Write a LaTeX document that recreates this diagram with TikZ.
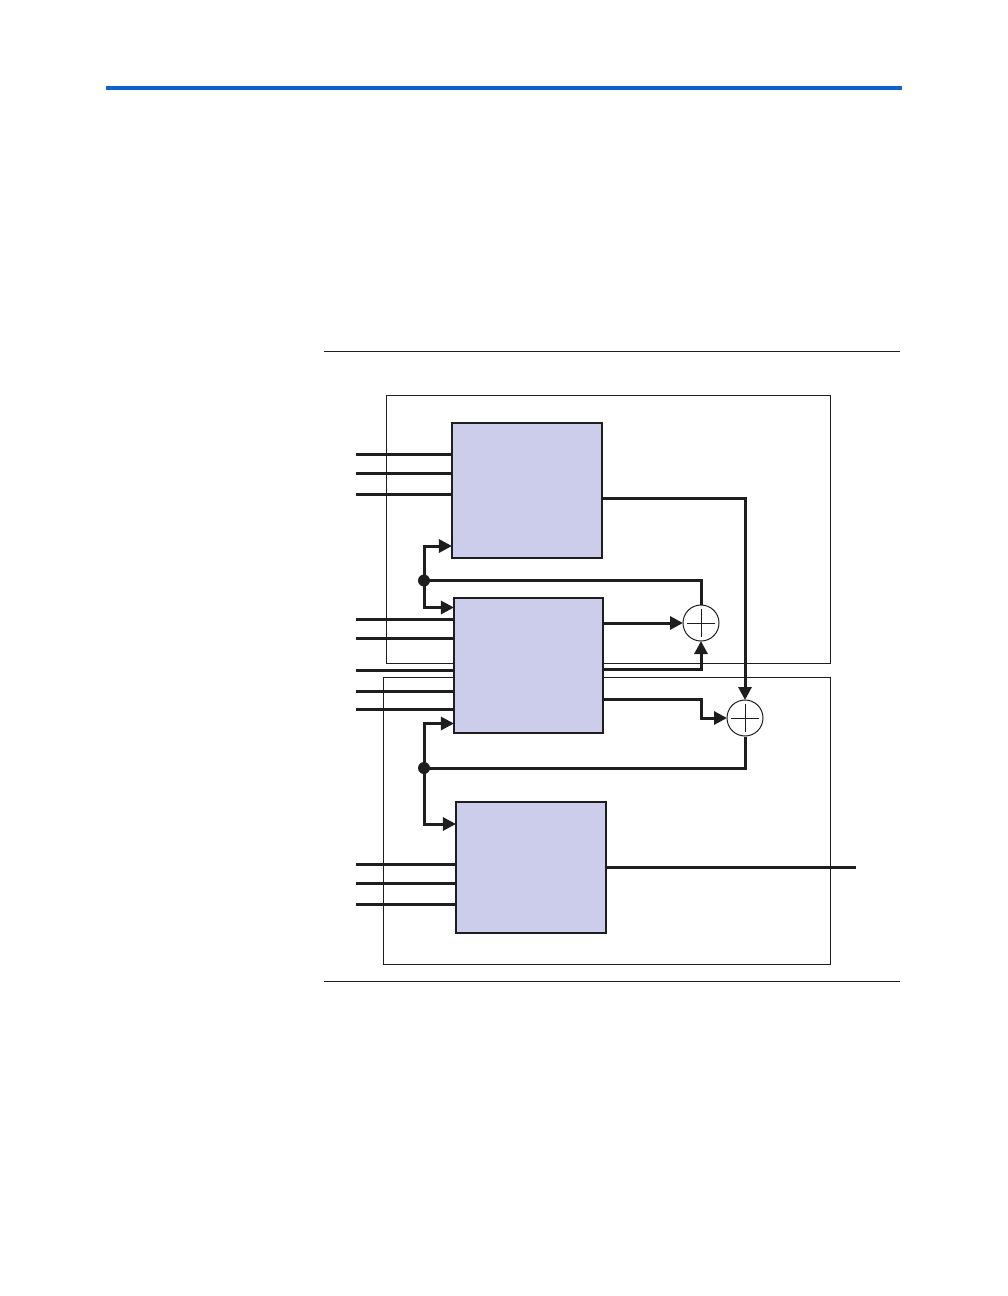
\documentclass[tikz,border=0pt]{standalone}
\usetikzlibrary{arrows.meta}
\definecolor{blockfill}{RGB}{204,204,235}
\definecolor{rulecol}{RGB}{10,100,200}
\definecolor{ink}{RGB}{30,30,32}
\begin{document}
\begin{tikzpicture}[x=1pt,y=-1pt,
  region/.style={draw=ink,line width=1pt,inner sep=0pt,minimum width=#1},
  blockbox/.style={draw=ink,line width=1.1pt,fill=blockfill,inner sep=0pt,minimum width=150pt},
  sumnode/.style={circle,draw=ink,line width=1pt,fill=white,inner sep=0pt,minimum size=36pt},
  sig/.style={draw=ink,line width=3pt},
  sigarrow/.style={draw=ink,line width=3pt,-{Triangle[length=13pt,width=13pt]},shorten >=-0.5pt},
  junction/.style={circle,fill=ink,inner sep=0pt,minimum size=12pt},
  plusline/.style={draw=ink,line width=0.9pt}]
\useasboundingbox (0,0) rectangle (1008,1296);
% page rules
\coordinate (bl) at (106,88);
\coordinate (br) at (902,88);
\draw[rulecol,line width=4pt] (bl) -- (br);
\coordinate (tl) at (324,351);
\coordinate (tr) at (900,351);
\draw[ink,line width=1pt] (tl) -- (tr);
\coordinate (ul) at (324,981.5);
\coordinate (ur) at (900,981.5);
\draw[ink,line width=1pt] (ul) -- (ur);
% regions
\node[region=444pt,minimum height=268pt] (r1) at (608,529) {};
\node[region=447pt,minimum height=287pt] (r2) at (606.5,820.5) {};
% blocks
\node[blockbox,minimum height=135pt] (b1) at (527,490.5) {};
\node[blockbox,minimum width=149pt,minimum height=135pt] (b2) at (528.5,665.5) {};
\node[blockbox,minimum height=131pt] (b3) at (531,867.5) {};
% adders
\node[sumnode] (s1) at (701,623) {};
\node[sumnode] (s2) at (745,718) {};
\draw[plusline] ([xshift=-14pt]s1.center) -- ([xshift=14pt]s1.center);
\draw[plusline] ([yshift=-14pt]s1.center) -- ([yshift=14pt]s1.center);
\draw[plusline] ([xshift=-14pt]s2.center) -- ([xshift=14pt]s2.center);
\draw[plusline] ([yshift=-14pt]s2.center) -- ([yshift=14pt]s2.center);
% junctions
\node[junction] (d1) at (424,580.5) {};
\node[junction] (d2) at (424,768) {};
% inputs of block 1
\foreach \n/\y in {a/454,b/473.5,c/494}{
  \coordinate (i1\n) at (356,\y);
  \draw[sig] (i1\n) -- (i1\n -| b1.west);
}
% inputs of block 2
\foreach \n/\y in {a/619.5,b/638.5,c/670,d/691,e/709.5}{
  \coordinate (i2\n) at (356,\y);
  \draw[sig] (i2\n) -- (i2\n -| b2.west);
}
% inputs of block 3
\foreach \n/\y in {a/864.5,b/883.5,c/904.5}{
  \coordinate (i3\n) at (356,\y);
  \draw[sig] (i3\n) -- (i3\n -| b3.west);
}
% feedback / control arrows
\coordinate (c1) at (0,546);
\coordinate (c2) at (0,607.5);
\coordinate (c3) at (0,723.5);
\coordinate (c4) at (0,824);
\draw[sigarrow] (d1.center) |- (c1 -| b1.west);
\draw[sigarrow] (d1.center) |- (c2 -| b2.west);
\draw[sigarrow] (d2.center) |- (c3 -| b2.west);
\draw[sigarrow] (d2.center) |- (c4 -| b3.west);
\draw[sig] (d1.center) -| (s1.north);
% outputs
\coordinate (o1) at (0,498.5);
\coordinate (o2a) at (0,669.5);
\coordinate (o2b) at (0,699.5);
\coordinate (o3) at (0,867.5);
\draw[sigarrow] (o1 -| b1.east) -| (s2.north);
\draw[sigarrow] (s1.west -| b2.east) -- (s1.west);
\draw[sigarrow] (o2a -| b2.east) -| (s1.south);
\draw[sigarrow] (o2b -| b2.east) -- (o2b -| s1.center) |- (s2.west);
\draw[sig] (s2.south) |- (d2.center);
\coordinate (out) at (856,867.5);
\draw[sig] (o3 -| b3.east) -- (out);
\end{tikzpicture}
\end{document}
